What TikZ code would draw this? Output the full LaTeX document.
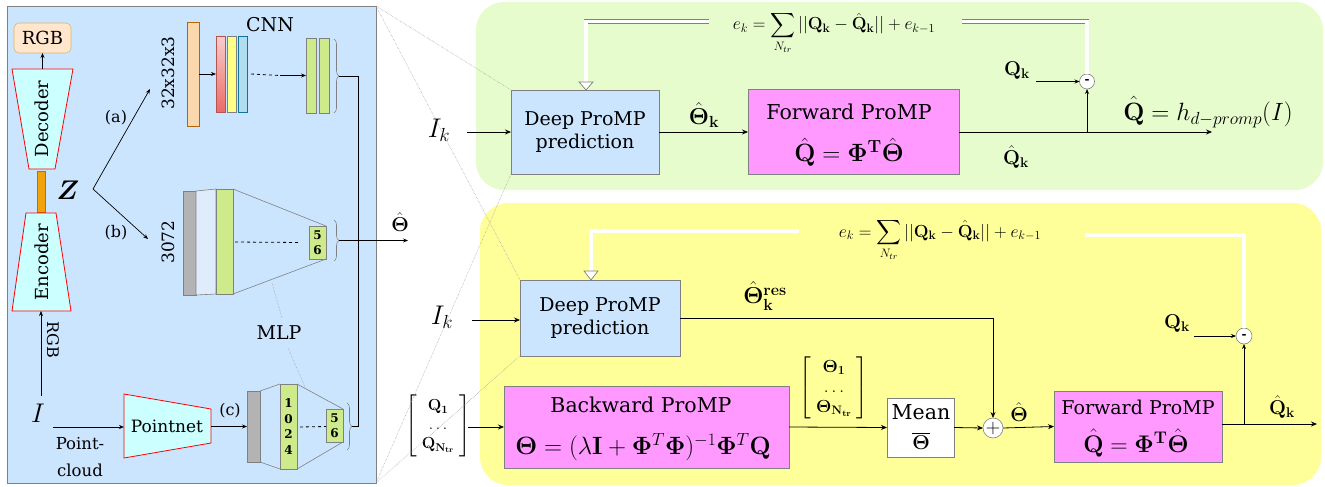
\RequirePackage{fix-cm}
\documentclass[tikz,border=0pt]{standalone}
\usepackage{amsmath}
\usepackage[no-math]{fontspec}
\setmainfont{DejaVu Serif}
\usetikzlibrary{arrows.meta,decorations.pathreplacing,calc}
\definecolor{panelblue}{RGB}{204,229,255}
\definecolor{pgreen}{RGB}{230,252,204}
\definecolor{pyellow}{RGB}{255,255,153}
\definecolor{pmag}{RGB}{255,153,255}
\definecolor{pcyan}{RGB}{204,255,255}
\definecolor{rgbfill}{RGB}{255,230,204}
\definecolor{rgbdraw}{RGB}{215,182,110}
\definecolor{latfill}{RGB}{240,163,10}
\definecolor{latdraw}{RGB}{189,112,0}
\definecolor{infill}{RGB}{250,215,172}
\definecolor{indraw}{RGB}{180,101,4}
\definecolor{lgreen}{RGB}{205,235,139}
\definecolor{lgrayf}{RGB}{179,179,179}
\definecolor{redtop}{RGB}{248,206,204}
\definecolor{redbot}{RGB}{234,107,102}
\definecolor{reddraw}{RGB}{184,84,80}
\definecolor{yelf}{RGB}{255,255,136}
\definecolor{bluef}{RGB}{177,221,240}
\definecolor{bluedraw}{RGB}{16,115,158}
\definecolor{lightpanel}{RGB}{222,236,252}
\definecolor{edge}{RGB}{128,128,128}
\begin{document}
\begin{tikzpicture}[x=1pt,y=-1pt,
  every node/.style={inner sep=0pt,outer sep=0pt},
  ln/.style={draw=black,line width=0.8pt},
  arr/.style={ln,-{Stealth[length=6pt,width=5pt]}},
  sarr/.style={draw=black,line width=0.7pt,-{Stealth[length=5pt,width=4pt]}},
  gbox/.style={draw=edge,line width=0.7pt},
  fbk/.style={draw=edge,line width=0.7pt,double=white,double distance=3.2pt,line join=miter},
  tri/.style={draw=edge,line width=0.7pt,fill=white,line join=miter},
  guide/.style={draw=gray!80,line width=0.5pt,densely dotted},
  thinl/.style={draw=edge,line width=0.6pt},
  brc/.style={draw=edge,line width=0.6pt,decorate,decoration={brace,amplitude=5pt}},
  ae/.style={draw=red,fill=pcyan,line width=0.8pt},
  layer/.style={draw=edge,line width=0.6pt},
  t16/.style={font=\fontsize{16}{19}\selectfont},
  t17/.style={font=\fontsize{17}{20}\selectfont},
  t18/.style={font=\fontsize{18}{22}\selectfont},
  t19/.style={font=\fontsize{19}{23}\selectfont},
  t20/.style={font=\fontsize{20.5}{24}\selectfont},
  m16/.style={font=\fontsize{16}{19}\selectfont},
  m17/.style={font=\fontsize{17.5}{20}\selectfont},
  m20/.style={font=\fontsize{20}{24}\selectfont},
  m23/.style={font=\fontsize{23}{27}\selectfont},
  m25/.style={font=\fontsize{25}{30}\selectfont},
  m27/.style={font=\fontsize{27}{32}\selectfont},
  num/.style={font=\fontsize{12}{15.5}\selectfont\bfseries,align=center},
  sumnode/.style={circle,draw=edge,fill=white,line width=0.6pt},
]
\useasboundingbox (0,0) rectangle (1325,487);

% ---------- panels
\node[draw=edge,line width=0.7pt,fill=panelblue,minimum width=369pt,minimum height=477pt] (lp) at (191.5,244.5) {};
\node[fill=pgreen,rounded corners=28pt,minimum width=847pt,minimum height=188pt] (gp) at (899.5,96) {};
\node[fill=pyellow,rounded corners=28pt,minimum width=841pt,minimum height=282pt] (yp) at (900.5,344) {};

% ---------- left panel: autoencoder
\node[draw=rgbdraw,fill=rgbfill,rounded corners=5pt,line width=0.6pt,minimum width=57pt,minimum height=30pt,t18] (rgb) at (42.5,38) {RGB};
\draw[ae] (12,69) -- (73,69) -- (55,169) -- (29,169) -- cycle;
\coordinate (dectop) at (42.5,69);
\node[rotate=90,t18] (dec) at (42,119) {Decoder};
\node[draw=latdraw,fill=latfill,line width=0.6pt,minimum width=8pt,minimum height=41pt] (lat) at (41,191.5) {};
\draw[ae] (26,213) -- (56,213) -- (71,311) -- (12,311) -- cycle;
\coordinate (encbot) at (41,311);
\node[rotate=90,t18] (enc) at (42,262) {Encoder};
\draw[sarr] (dectop) -- (rgb.south);

\node[m27] (img) at (38,413) {$I$};
\draw[sarr,shorten <=8pt] (img.north -| encbot) -- (encbot);
\node[rotate=-90,t16] (rgblab) at (53,340) {RGB};

\node[m27] (zz) at (68,190) {$\boldsymbol{Z}$};
\coordinate (zfork) at (93,189);
\coordinate (ain) at (150,89);
\coordinate (bin) at (148,239);
\draw[sarr] (zfork) -- (ain);
\draw[sarr] (zfork) -- (bin);
\node[t16] (la) at (116,118) {(a)};
\node[t16] (lb) at (116,233) {(b)};

% ---------- CNN branch
\node[t17,rotate=90] (dimin) at (168,73) {32x32x3};
\node[draw=indraw,fill=infill,line width=0.6pt,minimum width=12pt,minimum height=104pt] (cin) at (193,74) {};
\node[draw=reddraw,top color=redtop,bottom color=redbot,line width=0.6pt,minimum width=9pt,minimum height=76pt] (cv1) at (220.5,74) {};
\node[layer,fill=yelf,minimum width=9pt,minimum height=76pt] (cv2) at (231.5,74) {};
\node[draw=bluedraw,fill=bluef,line width=0.6pt,minimum width=9pt,minimum height=76pt] (cv3) at (242.5,74) {};
\node[layer,fill=lgreen,minimum width=10pt,minimum height=75pt] (cg1) at (311,75.5) {};
\node[layer,fill=lgreen,minimum width=10pt,minimum height=75pt] (cg2) at (324,75.5) {};
\draw[sarr] (cin.east) -- (cv1.west);
\coordinate (cdash) at (280,75.5);
\draw[ln,dashed] ($(cv3.east)+(4,0)$) -- (cdash);
\draw[sarr] (cdash) -- (cg1.west);
\draw[brc] (334,39) -- (334,113);
\coordinate (br1) at (339,76);
\node[t19] (cnnlab) at (270,25) {CNN};

% ---------- MLP branch (b)
\node[t17,rotate=90] (dimb) at (168,242) {3072};
\node[layer,fill=lgrayf,minimum width=13pt,minimum height=104pt] (bgr) at (189.5,243) {};
\draw[thinl,fill=lightpanel] (196,191) -- (216,189) -- (216,294) -- (196,295) -- cycle;
\node[layer,fill=lgreen,minimum width=17pt,minimum height=105pt] (bgn) at (224.5,241.5) {};
\node[layer,fill=lgreen,minimum width=17pt,minimum height=33pt,num] (b56) at (317.5,242.5) {5\\6};
\draw[thinl] (bgn.north east) -- (b56.north east);
\draw[thinl] (bgn.south east) -- (b56.south east);
\draw[ln,dashed] ($(bgn.east)+(2,0.5)$) -- ($(b56.west)+(-9,0)$);
\draw[brc] (334,220) -- (334,261);
\coordinate (br2) at (339,240.5);

% ---------- Pointnet branch (c)
\draw[ae] (124,394) -- (211,409) -- (211,443) -- (124,458) -- cycle;
\node[t17] (pn) at (167,426) {Pointnet};
\coordinate (pnin) at (124,427);
\coordinate (pnout) at (211,426.5);
\draw[sarr,shorten <=8pt] (img.east |- pnin) -- (pnin);
\node[font=\fontsize{16.5}{27}\selectfont,align=center] (pcl) at (80,457) {Point-\\cloud};
\node[layer,fill=lgrayf,minimum width=13pt,minimum height=71pt] (cgy) at (253.5,426.5) {};
\node[layer,fill=lgreen,minimum width=17pt,minimum height=85pt,num] (cgn) at (288.5,426.5) {1\\0\\2\\4};
\draw[thinl] (cgy.north east) -- (cgn.north west);
\draw[thinl] (cgy.south east) -- (cgn.south west);
\node[layer,fill=lgreen,minimum width=17pt,minimum height=33pt,num] (c56) at (334.5,425.5) {5\\6};
\draw[thinl] (cgn.north east) -- (c56.north east);
\draw[thinl] (cgn.south east) -- (c56.south east);
\draw[ln,dashed] ($(cgn.east)+(3,0.5)$) -- ($(c56.west)+(0,1)$);
\draw[sarr] (pnout) -- (cgy.west);
\node[t16] (lc) at (230,411) {(c)};
\draw[brc] (347,403) -- (347,450);
\coordinate (br3) at (352,426.5);

\node[t19] (mlp) at (279,333) {MLP};
\draw[guide] (282,318) -- (272,283);
\draw[guide] (288,348) -- (305,387);

% ---------- left outputs
\coordinate (vtop) at (358,76);
\coordinate (vbot) at (358,426.5);
\draw[ln] (br1) -- (vtop) -- (vbot) -- (br3);
\coordinate (thout) at (408,240.5);
\draw[sarr] (br2) -- (thout);
\node[m20] (thlab) at (400,222) {$\hat{\mathbf{\Theta}}$};

% ---------- top (green) panel
\node[gbox,fill=panelblue,minimum width=148pt,minimum height=84pt,t19,align=center] (deep1) at (585,132) {Deep ProMP\\prediction};
\node[gbox,fill=pmag,minimum width=211pt,minimum height=85pt] (fwd1) at (853.5,132) {};
\node[t20] (fwd1a) at (849,112) {Forward ProMP};
\node[m25] (fwd1b) at (849,152) {$\hat{\mathbf{Q}}=\mathbf{\Phi}^\mathbf{T}\hat{\mathbf{\Theta}}$};
\node[m27] (ik1) at (439,130) {$I_k$};
\coordinate (ik1a) at (467,132);
\draw[arr] (ik1a) -- (deep1.west);
\draw[arr] (deep1.east) -- (fwd1.west);
\node[m23] (thk1) at (704,115) {$\hat{\mathbf{\Theta}}_\mathbf{k}$};
\coordinate (o1) at (1212,132);
\draw[arr] (fwd1.east) -- (o1);
\node[m25] (hlab) at (1208,112) {$\hat{\mathbf{Q}}=h_{d-promp}(I)$};
\node[m20] (qh1) at (1016,157) {$\hat{\mathbf{Q}}_\mathbf{k}$};
\node[sumnode,minimum size=15pt,font=\fontsize{12}{12}\selectfont\bfseries] (m1) at (1087,81.5) {-};
\coordinate (sp1) at (1087,132);
\draw[sarr] (sp1) -- (m1.south);
\node[m20] (qk1) at (1017,71) {$\mathbf{Q_k}$};
\coordinate (qk1a) at (1036,81.5);
\draw[sarr] (qk1a) -- (m1.west);
\node[m17,anchor=base] (ek1) at (834,29.5) {$\displaystyle e_k=\sum_{N_{tr}}||\mathbf{Q_k}-\hat{\mathbf{Q}}_\mathbf{k}||+e_{k-1}$};
\coordinate (ek1r) at (962,21.5);
\coordinate (ek1l) at (709,21.5);
\coordinate (tb1) at (586,82);
\draw[fbk] (m1.north) |- (ek1r);
\draw[fbk] (ek1l) -| (tb1);
\draw[tri] ($(tb1)+(-7,0)$) -- ($(tb1)+(7,0)$) -- (tb1 |- deep1.north) -- cycle;

% ---------- bottom (yellow) panel
\node[gbox,fill=panelblue,minimum width=160pt,minimum height=76pt,t19,align=center] (deep2) at (600,318) {Deep ProMP\\prediction};
\node[m27] (ik2) at (442,317) {$I_k$};
\coordinate (ik2a) at (472,320);
\draw[arr] (ik2a) -- (deep2.west |- ik2a);
\node[m23] (thres) at (765,296) {$\hat{\mathbf{\Theta}}^\mathbf{res}_\mathbf{k}$};
\node[sumnode,minimum size=20pt,font=\fontsize{20}{20}\selectfont] (plus) at (993,428) {$+$};
\draw[arr] (deep2.east) -| (plus.north);

\node[m16] (qmat) at (438,426) {$\left[\begin{array}{c}\mathbf{Q_1}\\ \dots\\ \mathbf{Q}_{\mathbf{N_{tr}}}\end{array}\right]$};
\node[gbox,fill=pmag,minimum width=285pt,minimum height=82pt] (bwd) at (646.5,427) {};
\node[t20] (bwda) at (641,405) {Backward ProMP};
\node[m25] (bwdb) at (643,447) {$\mathbf{\Theta}=(\lambda\mathbf{I}+\mathbf{\Phi}^T\mathbf{\Phi})^{-1}\mathbf{\Phi}^T\mathbf{Q}$};
\coordinate (qa) at (468,427);
\draw[arr] (qa) -- (bwd.west);

\node[m17] (thmat) at (834,388) {$\left[\begin{array}{c}\mathbf{\Theta_1}\\ \dots\\ \mathbf{\Theta}_{\mathbf{N_{tr}}}\end{array}\right]$};
\node[gbox,fill=white,minimum width=67pt,minimum height=59pt] (mean) at (920.5,427.5) {};
\node[t20] (meana) at (921,412) {Mean};
\node[m20] (meanb) at (921,441) {$\overline{\mathbf{\Theta}}$};
\draw[arr] (bwd.east) -- (mean.west);
\draw[arr] (mean.east) -- (plus.west);

\node[gbox,fill=pmag,minimum width=168pt,minimum height=71pt] (fwd2) at (1138,426.5) {};
\node[t19] (fwd2a) at (1138,407) {Forward ProMP};
\node[font=\fontsize{24}{29}\selectfont] (fwd2b) at (1136,443) {$\hat{\mathbf{Q}}=\mathbf{\Phi}^\mathbf{T}\hat{\mathbf{\Theta}}$};
\draw[arr] (plus.east) -- (fwd2.west);
\node[m20] (thb) at (1019,412) {$\hat{\mathbf{\Theta}}$};
\coordinate (o2) at (1317,424);
\draw[arr] (fwd2.east |- o2) -- (o2);
\node[m20] (qh2) at (1282,407) {$\hat{\mathbf{Q}}_\mathbf{k}$};
\node[sumnode,minimum size=16pt,font=\fontsize{12}{12}\selectfont\bfseries] (m2) at (1244,336) {-};
\coordinate (sp2) at (1244,424);
\draw[sarr] (sp2) -- (m2.south);
\node[m20] (qk2) at (1177,324) {$\mathbf{Q_k}$};
\coordinate (qk2a) at (1194,336);
\draw[sarr] (qk2a) -- (m2.west);
\node[m17,anchor=base] (ek2) at (940,237) {$\displaystyle e_k=\sum_{N_{tr}}||\mathbf{Q_k}-\hat{\mathbf{Q}}_\mathbf{k}||+e_{k-1}$};
\coordinate (ek2r) at (1085,235);
\coordinate (ek2l) at (799,231);
\coordinate (tb2) at (591,271);
\draw[fbk] (m2.north) |- (ek2r);
\draw[fbk] (ek2l) -| (tb2);
\draw[tri] ($(tb2)+(-7,0)$) -- ($(tb2)+(7,0)$) -- (tb2 |- deep2.north) -- cycle;

% ---------- zoom guides
\draw[guide] (lp.north east) -- (deep1.north west);
\draw[guide] (lp.north east) -- (deep2.north west);
\draw[guide] (lp.south east) -- (deep1.south west);
\draw[guide] (lp.south east) -- (deep2.south west);
\end{tikzpicture}
\end{document}
